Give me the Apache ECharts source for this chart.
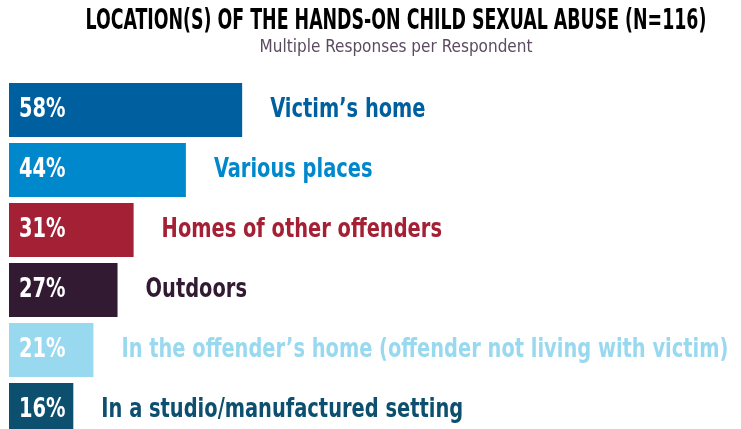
<!DOCTYPE html>
<html>
<head>
<meta charset="utf-8">
<script src="https://cdn.jsdelivr.net/npm/echarts@6/dist/echarts.min.js"></script>
<style>
  html, body { margin: 0; padding: 0; background: #fff; }
  #chart { width: 741px; height: 429px; }
</style>
</head>
<body>
<div id="chart"></div>
<script>
// 数据
const categories = [
  'Victim’s home',
  'Various places',
  'Homes of other offenders',
  'Outdoors',
  'In the offender’s home (offender not living with victim)',
  'In a studio/manufactured setting'
];
const values = [58, 44, 31, 27, 21, 16];
const colors = ['#005f9e', '#0088cc', '#a32035', '#331a33', '#99d9f0', '#0c4f6e'];

// 窄体粗字（用 scaleX 压窄模拟 DIN Condensed）
const FONT = '"DejaVu Sans Condensed", "Liberation Sans Narrow", sans-serif';
const SQUEEZE = 0.8;

const chart = echarts.init(document.getElementById('chart'));

const option = {
  backgroundColor: '#fff',
  animation: false,
  graphic: [
    {
      type: 'text',
      x: 396, y: 22,
      scaleX: 0.69,
      style: {
        text: 'LOCATION(S) OF THE HANDS-ON CHILD SEXUAL ABUSE (N=116)',
        font: 'bold 28px ' + FONT,
        fill: '#000',
        align: 'center',
        verticalAlign: 'middle'
      }
    },
    {
      type: 'text',
      x: 396, y: 48,
      style: {
        text: 'Multiple Responses per Respondent',
        font: '17px ' + FONT,
        fill: '#5b4b5f',
        align: 'center',
        verticalAlign: 'middle'
      }
    }
  ],
  grid: { left: 9, top: 80, width: 402, height: 360, outerBoundsMode: 'none' },
  xAxis: { type: 'value', min: 0, max: 100, show: false },
  yAxis: { type: 'category', data: categories, inverse: true, show: false },
  series: [
    {
      type: 'bar',
      z: 2,
      data: values.map((v, i) => ({ value: v, itemStyle: { color: colors[i] } })),
      barWidth: 54
    },
    {
      // 百分比 + 类别文字
      type: 'custom',
      z: 10,
      silent: true,
      clip: false,
      data: values.map((v, i) => [v, i]),
      encode: { x: 0, y: 1 },
      renderItem: (params, api) => {
        const i = params.dataIndex;
        const v = api.value(0);
        const end = api.coord([v, i]);
        const start = api.coord([0, i]);
        return {
          type: 'group',
          children: [
            {
              type: 'text',
              x: start[0] + 10, y: end[1],
              scaleX: SQUEEZE,
              style: {
                text: v + '%',
                font: 'bold 27px ' + FONT,
                fill: '#ffffff',
                align: 'left',
                verticalAlign: 'middle'
              }
            },
            {
              type: 'text',
              x: end[0] + 28, y: end[1],
              scaleX: SQUEEZE,
              style: {
                text: categories[i],
                font: 'bold 27px ' + FONT,
                fill: colors[i],
                align: 'left',
                verticalAlign: 'middle'
              }
            }
          ]
        };
      }
    }
  ]
};

chart.setOption(option);
</script>
</body>
</html>
